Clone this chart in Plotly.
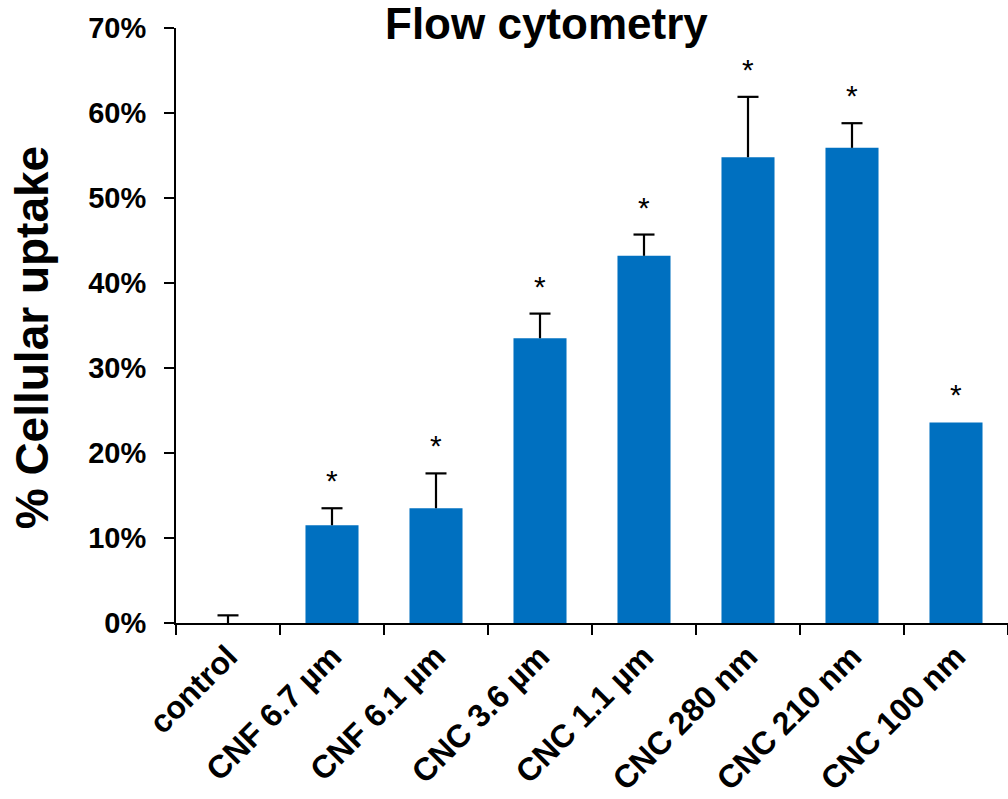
import plotly.graph_objects as go

categories = ["control", "CNF 6.7 µm", "CNF 6.1 µm", "CNC 3.6 µm", "CNC 1.1 µm",
              "CNC 280 nm", "CNC 210 nm", "CNC 100 nm"]
uptake = [0.0, 11.5, 13.5, 33.5, 43.2, 54.8, 55.9, 23.6]
error = [0.9, 2.0, 4.1, 2.9, 2.5, 7.1, 2.9, 0.0]
significant = [False, True, True, True, True, True, True, True]
y_ticks = [0, 10, 20, 30, 40, 50, 60, 70]

FONT = "Liberation Sans, Arial, sans-serif"
BLUE = "#0070C0"

fig = go.Figure()
# bars with error-bar stems (no caps)
fig.add_trace(go.Bar(
    x=categories, y=uptake, width=0.51,
    marker=dict(color=BLUE, line=dict(width=0)),
    error_y=dict(type="data", array=error, symmetric=False, arrayminus=[0]*len(error),
                 color="black", thickness=2.2, width=0, visible=True),
))
# top caps of the error bars
cap_x = [c for c, e in zip(categories, error) if e > 0]
cap_y = [v + e for v, e in zip(uptake, error) if e > 0]
fig.add_trace(go.Scatter(
    x=cap_x, y=cap_y, mode="markers",
    marker=dict(symbol="line-ew", size=15, line=dict(color="black", width=2.2)),
    hoverinfo="skip", cliponaxis=False,
))

for c, v, e, s in zip(categories, uptake, error, significant):
    if s:
        fig.add_annotation(x=c, y=v + e, text="*", showarrow=False,
                           yanchor="bottom", yshift=9,
                           font=dict(family=FONT, size=30, color="black"))

# chart title
fig.add_annotation(xref="paper", yref="paper", x=0.445, y=1.0, xanchor="center",
                   yanchor="top", yshift=31, text="<b>Flow cytometry</b>", showarrow=False,
                   font=dict(family=FONT, size=44, color="black"))
# y-axis title
fig.add_annotation(xref="paper", yref="paper", x=-0.172, y=0.48, xanchor="center",
                   yanchor="middle", textangle=-90, text="<b>% Cellular uptake</b>",
                   showarrow=False, font=dict(family=FONT, size=46, color="black"))

fig.update_layout(
    width=1008, height=799,
    margin=dict(l=176, r=0, t=28, b=176),
    plot_bgcolor="white", paper_bgcolor="white",
    showlegend=False,
    font=dict(family=FONT, color="black"),
    xaxis=dict(
        type="category", tickson="boundaries", ticks="outside", ticklen=10, tickwidth=2,
        tickcolor="black", showline=True, linecolor="black", linewidth=2,
        tickangle=-45, tickfont=dict(family=FONT, size=32, color="black"),
        showgrid=False, range=[-0.5, 7.5],
        tickvals=categories, ticktext=[f"<b>{c}</b>" for c in categories],
    ),
    yaxis=dict(
        range=[0, 70], tickvals=y_ticks, ticktext=[f"<b>{t}%</b>" for t in y_ticks],
        ticks="outside", ticklen=10, tickwidth=2, tickcolor="black",
        showline=True, linecolor="black", linewidth=2, showgrid=False, zeroline=False,
        tickfont=dict(family=FONT, size=29, color="black"), ticklabelstandoff=12,
    ),
)

fig.write_html("out.html")
